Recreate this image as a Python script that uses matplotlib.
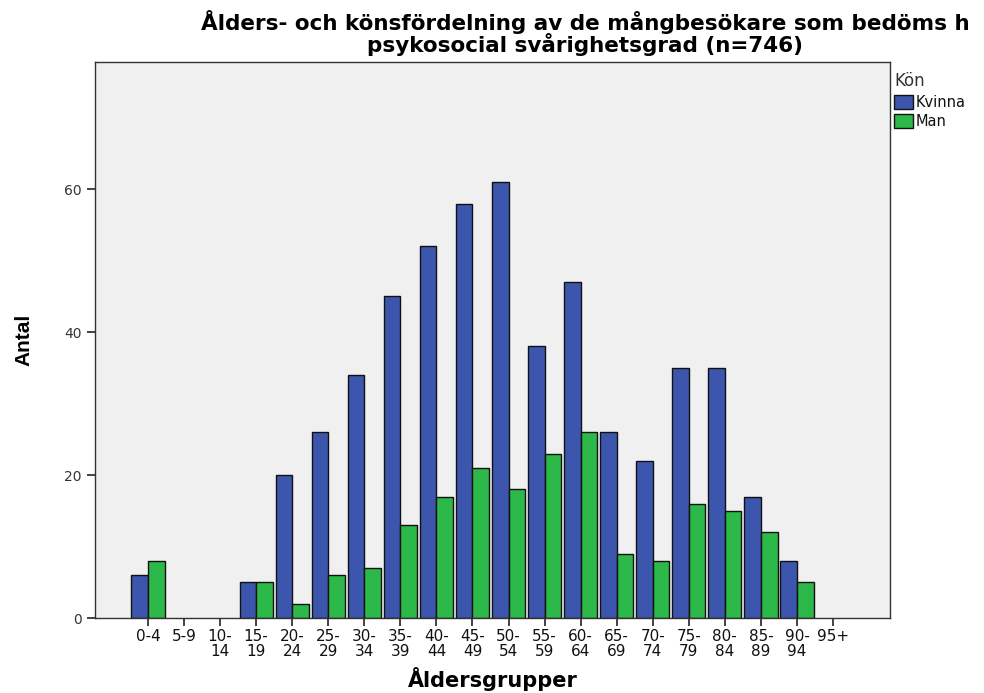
import matplotlib
matplotlib.use("Agg")
import matplotlib.pyplot as plt
import numpy as np
from matplotlib.patches import Patch

plt.rcParams['font.family'] = ['DejaVu Sans']

categories = ["0-4", "5-9", "10-\n14", "15-\n19", "20-\n24", "25-\n29", "30-\n34", "35-\n39",
              "40-\n44", "45-\n49", "50-\n54", "55-\n59", "60-\n64", "65-\n69", "70-\n74",
              "75-\n79", "80-\n84", "85-\n89", "90-\n94", "95+"]
kvinna = [6, 0, 0, 5, 20, 26, 34, 45, 52, 58, 61, 38, 47, 26, 22, 35, 35, 17, 8, 0]
man = [8, 0, 0, 5, 2, 6, 7, 13, 17, 21, 18, 23, 26, 9, 8, 16, 15, 12, 5, 0]
yticks = [0, 20, 40, 60]

c_kvinna = "#3d56ad"
c_man = "#2db84a"

fig = plt.figure(figsize=(9.84, 6.93), dpi=100)
ax = fig.add_axes([95/984, 1-618/693, (890-95)/984, (618-62)/693])
ax.set_facecolor("#f0f0f0")

x = np.arange(len(categories))
w = 0.46
lw_k = [1.0 if v > 0 else 0 for v in kvinna]
lw_m = [1.0 if v > 0 else 0 for v in man]
ax.bar(x - w/2, kvinna, width=w, color=c_kvinna, edgecolor="#111111", linewidth=lw_k)
ax.bar(x + w/2, man, width=w, color=c_man, edgecolor="#111111", linewidth=lw_m)

ax.set_xlim(-1.47, 20.58)
ax.set_ylim(0, 77.8)
ax.set_xticks(x)
ax.set_xticklabels(categories, fontsize=11, linespacing=0.95, color="#111111")
ax.set_yticks(yticks)
ax.set_yticklabels([str(t) for t in yticks], fontsize=10, color="#333333")
ax.tick_params(axis='both', direction='out', length=6, width=1.2, color="#222222")
ax.tick_params(axis='x', pad=2)
for s in ax.spines.values():
    s.set_color("#333333")
    s.set_linewidth(1.0)

ax.set_xlabel("Åldersgrupper", fontsize=15, fontweight='bold', labelpad=6)
ax.set_ylabel("Antal", fontsize=15, fontweight='bold', labelpad=22,
              family=['Liberation Sans', 'DejaVu Sans'])

fig.text(585/984, 1-22/693, "Ålders- och könsfördelning av de mångbesökare som bedöms h",
         ha='center', va='center', fontsize=15.5, fontweight='bold')
fig.text(585/984, 1-44/693, "psykosocial svårighetsgrad (n=746)",
         ha='center', va='center', fontsize=15.5, fontweight='bold')

handles = [Patch(facecolor=c_kvinna, edgecolor="#111111", label="Kvinna"),
           Patch(facecolor=c_man, edgecolor="#111111", label="Man")]
leg = fig.legend(handles=handles, title="Kön", loc='upper left',
                 bbox_to_anchor=(884/984, 1-62/693), frameon=False,
                 fontsize=10.5, title_fontsize=12, handlelength=1.3, handleheight=1.1,
                 handletextpad=0.2, labelspacing=0.3, borderpad=0.2)
leg._legend_box.align = "left"
leg.get_title().set_color("#333333")
for t in leg.get_texts():
    t.set_color("#111111")

fig.savefig("out.png", dpi=100)
